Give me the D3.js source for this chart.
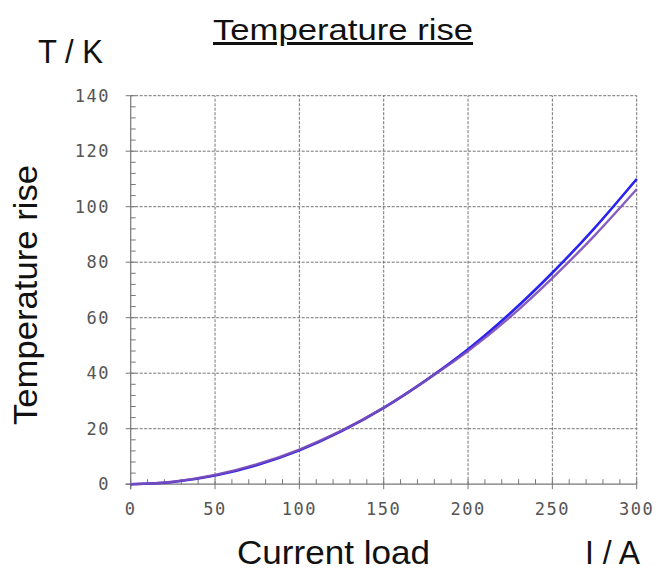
<!DOCTYPE html>
<html>
<head>
<meta charset="utf-8">
<script src="https://cdn.jsdelivr.net/npm/d3@7"></script>
<style>
  html, body { margin: 0; padding: 0; background: #fff; }
  svg { display: block; }
</style>
</head>
<body>
<svg id="chart" width="659" height="570"></svg>
<script>
// ---- data ----
const current = [0, 25, 50, 75, 100, 125, 150, 175, 200, 225, 250, 275, 300];
const seriesBlue = [0, 0.8, 3.1, 6.9, 12.2, 19.1, 27.5, 37.4, 48.6, 61.6, 76.2, 92.3, 110];
const seriesPurple = [0, 0.9, 3.3, 7.2, 12.5, 19.3, 27.6, 37.4, 48.0, 60.3, 74.3, 89.6, 106.3];
const xTicks = [0, 50, 100, 150, 200, 250, 300];
const yTicks = [0, 20, 40, 60, 80, 100, 120, 140];
const title = "Temperature rise";
const yTitle = "Temperature rise";
const xTitle = "Current load";
const yUnit = "T / K";
const xUnit = "I / A";

const svg = d3.select("#chart");
const x = d3.scaleLinear().domain([0, 300]).range([130.7, 636.7]);
const y = d3.scaleLinear().domain([0, 140]).range([484.2, 95.7]);

const gridColor = "#5e5e5e";
// grid lines
svg.append("g").selectAll("line").data(xTicks.slice(1)).join("line")
  .attr("x1", d => x(d)).attr("x2", d => x(d))
  .attr("y1", y(0)).attr("y2", y(140))
  .attr("stroke", gridColor).attr("stroke-width", 1).attr("stroke-dasharray", "3,1.5").attr("opacity", 0.85);
svg.append("g").selectAll("line").data(yTicks.slice(1)).join("line")
  .attr("x1", x(0)).attr("x2", x(300))
  .attr("y1", d => y(d)).attr("y2", d => y(d))
  .attr("stroke", gridColor).attr("stroke-width", 1).attr("stroke-dasharray", "3,1.5").attr("opacity", 0.85);

// axes lines
const axisColor = "#777";
svg.append("line").attr("x1", x(0)).attr("x2", x(0)).attr("y1", y(0) + 5).attr("y2", y(140))
  .attr("stroke", axisColor).attr("stroke-width", 1.2);
svg.append("line").attr("x1", x(0) - 5).attr("x2", x(300)).attr("y1", y(0)).attr("y2", y(0))
  .attr("stroke", axisColor).attr("stroke-width", 1.2);

// minor ticks
const xMinor = d3.range(0, 301, 10);
svg.append("g").selectAll("line").data(xMinor).join("line")
  .attr("x1", d => x(d)).attr("x2", d => x(d))
  .attr("y1", y(0)).attr("y2", y(0) - 5)
  .attr("stroke", axisColor).attr("stroke-width", 1);
const yMinor = d3.range(0, 141, 4);
svg.append("g").selectAll("line").data(yMinor).join("line")
  .attr("x1", x(0)).attr("x2", x(0) + 5)
  .attr("y1", d => y(d)).attr("y2", d => y(d))
  .attr("stroke", axisColor).attr("stroke-width", 1);
// major outward ticks
svg.append("g").selectAll("line").data(xTicks).join("line")
  .attr("x1", d => x(d)).attr("x2", d => x(d))
  .attr("y1", y(0)).attr("y2", y(0) + 5)
  .attr("stroke", axisColor).attr("stroke-width", 1);
svg.append("g").selectAll("line").data(yTicks).join("line")
  .attr("x1", x(0) - 5).attr("x2", x(0))
  .attr("y1", d => y(d)).attr("y2", d => y(d))
  .attr("stroke", axisColor).attr("stroke-width", 1);

// tick labels
const tickFont = "'DejaVu Sans Mono', monospace";
svg.append("g").selectAll("text").data(xTicks).join("text")
  .attr("x", d => x(d)).attr("y", 515)
  .attr("text-anchor", "middle")
  .attr("font-family", tickFont).attr("font-size", 17).attr("letter-spacing", 1.5)
  .attr("fill", "#555").text(d => d);
svg.append("g").selectAll("text").data(yTicks).join("text")
  .attr("x", 110).attr("y", d => y(d) + 6)
  .attr("text-anchor", "end")
  .attr("font-family", tickFont).attr("font-size", 17).attr("letter-spacing", 1.5)
  .attr("fill", "#555").text(d => d);

// curves
const line = d3.line().x((d, i) => x(current[i])).y(d => y(d)).curve(d3.curveMonotoneX);
svg.append("path").datum(seriesBlue).attr("d", line)
  .attr("fill", "none").attr("stroke", "#2a22ee").attr("stroke-width", 2.6);
svg.append("path").datum(seriesPurple).attr("d", line)
  .attr("fill", "none").attr("stroke", "#7a4cb8").attr("stroke-width", 2.4).attr("opacity", 0.9);

// titles
const labelFont = "'Liberation Sans', Arial, Helvetica, sans-serif";
svg.append("text").attr("x", 343).attr("y", 40).attr("text-anchor", "middle")
  .attr("font-family", labelFont).attr("font-size", 30).attr("fill", "#111")
  .attr("textLength", 260).attr("lengthAdjust", "spacingAndGlyphs")
  .attr("text-decoration", "underline").text(title);
svg.append("text").attr("x", 70.5).attr("y", 63).attr("text-anchor", "middle")
  .attr("font-family", labelFont).attr("font-size", 33).attr("fill", "#111")
  .attr("textLength", 65).attr("lengthAdjust", "spacingAndGlyphs").text(yUnit);
svg.append("text").attr("transform", "translate(37,295) rotate(-90)").attr("text-anchor", "middle")
  .attr("font-family", labelFont).attr("font-size", 33).attr("fill", "#111")
  .attr("textLength", 260).attr("lengthAdjust", "spacingAndGlyphs").text(yTitle);
svg.append("text").attr("x", 333.5).attr("y", 564).attr("text-anchor", "middle")
  .attr("font-family", labelFont).attr("font-size", 34).attr("fill", "#111")
  .attr("textLength", 193).attr("lengthAdjust", "spacingAndGlyphs").text(xTitle);
svg.append("text").attr("x", 612.5).attr("y", 564).attr("text-anchor", "middle")
  .attr("font-family", labelFont).attr("font-size", 34).attr("fill", "#111")
  .attr("textLength", 55).attr("lengthAdjust", "spacingAndGlyphs").text(xUnit);
</script>
</body>
</html>
